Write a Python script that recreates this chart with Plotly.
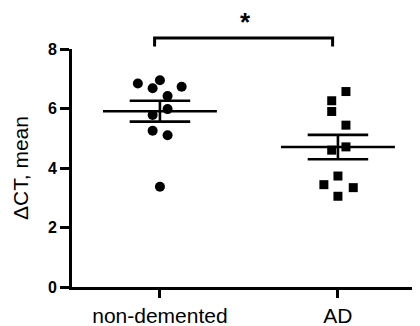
import numpy as np
import plotly.graph_objects as go

categories = ["non-demented", "AD"]
nd_values = [6.84, 6.95, 6.68, 6.73, 6.42, 5.98, 5.78, 5.25, 5.10, 3.37]
nd_jitter = [-0.124, 0.0, -0.041, 0.122, 0.043, 0.043, -0.041, -0.041, 0.043, 0.0]
ad_values = [6.57, 6.26, 5.90, 5.44, 4.60, 4.71, 3.73, 3.44, 3.34, 3.05]
ad_jitter = [0.045, -0.035, -0.035, 0.045, -0.035, 0.045, 0.0, -0.079, 0.086, 0.0]
y_ticks = [0, 2, 4, 6, 8]
y_title = "ΔCT, mean"
sig_label = "*"

groups = [(nd_values, nd_jitter, "circle", 10), (ad_values, ad_jitter, "square", 9)]
FONT = "Arial, Liberation Sans, sans-serif"

fig = go.Figure()
for i, (vals, jit, sym, size) in enumerate(groups):
    vals = np.array(vals)
    fig.add_trace(go.Scatter(
        x=[i + j for j in jit], y=vals, mode="markers",
        marker=dict(symbol=sym, size=size, color="black", line=dict(width=0)),
        showlegend=False, cliponaxis=False))
    m = vals.mean()
    sem = vals.std(ddof=1) / np.sqrt(len(vals))
    lw = 0.32
    cw = 0.17
    xs = [i - lw, i + lw, None, i - cw, i + cw, None, i - cw, i + cw, None, i, i]
    ys = [m, m, None, m + sem, m + sem, None, m - sem, m - sem, None, m - sem, m + sem]
    fig.add_trace(go.Scatter(x=xs, y=ys, mode="lines",
                             line=dict(color="black", width=2.6),
                             showlegend=False, cliponaxis=False))

# significance bracket
fig.add_shape(type="path", xref="x", yref="paper",
              path="M -0.03,1.011 L -0.03,1.046 L 0.97,1.046 L 0.97,1.011",
              line=dict(color="black", width=3))
fig.add_annotation(x=0.483, y=1.115, xref="x", yref="paper", text=sig_label,
                   showarrow=False, font=dict(family=FONT, size=26, color="black", weight="bold"),
                   yanchor="middle")

fig.update_layout(
    width=412, height=318,
    margin=dict(l=64, r=0, t=41, b=39),
    plot_bgcolor="white", paper_bgcolor="white",
    font=dict(family=FONT, color="black"),
)
fig.update_xaxes(
    range=[-0.494, 1.461], tickmode="array", tickvals=[0, 1], ticktext=categories,
    showgrid=False, zeroline=False, showline=True, linecolor="black", linewidth=3,
    ticks="outside", ticklen=8, tickwidth=3, tickcolor="black",
    tickfont=dict(family=FONT, size=21, color="black"),
)
fig.update_yaxes(
    range=[0, 8], tickmode="array", tickvals=y_ticks,
    showgrid=False, zeroline=False, showline=True, linecolor="black", linewidth=3,
    ticks="outside", ticklen=9, tickwidth=3, tickcolor="black",
    tickfont=dict(family=FONT, size=16, color="black", weight="bold"),
    title=dict(text=y_title, font=dict(family=FONT, size=21, color="black"), standoff=14),
)

fig.write_html("out.html")
